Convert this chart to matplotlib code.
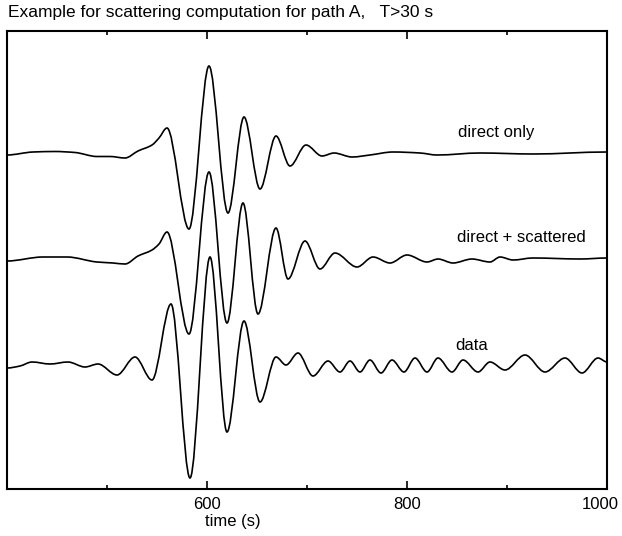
import numpy as np
import matplotlib
matplotlib.use("Agg")
import matplotlib.pyplot as plt
from matplotlib.path import Path
from matplotlib.patches import PathPatch
from matplotlib import transforms

plt.rcParams['font.family'] = ['Liberation Sans', 'DejaVu Sans']

# picked points (time in s, amplitude relative to each trace's baseline)
direct_t = [400, 426, 448, 468, 490, 503, 518, 531, 545, 552, 560, 582, 602, 621, 637,
            653, 669, 683, 699, 715, 727, 745, 763, 786, 813, 830, 873, 926, 1000]
direct_a = [0, 3, 3.5, 2.5, -1.5, -1.5, -3, 4, 10, 17, 27, -74, 89, -58, 38,
            -34, 19, -11, 10, -1, 2, -2, 0, 3, 2, 0, 2, 1, 3]

scat_t = [400, 436, 460, 490, 506, 518, 531, 545, 552, 560, 582, 602, 620, 636, 651,
          669, 681, 698, 713, 728, 750, 766, 783, 800, 820, 831, 846, 865, 883, 893,
          906, 926, 973, 1000]
scat_a = [0, 4, 4, -1, -2, -3, 5, 11, 17, 29, -73, 89, -62, 58, -53,
          33, -18, 20, -8, 8, -6, 4, -2, 6, -1, 2, -2, 2, -1, 4,
          1, 3, 2, 3]

data_t = [400, 413, 425, 443, 461, 478, 491, 510, 528, 545, 564, 583, 603, 620, 637,
          653, 669, 679, 691, 706, 721, 733, 743, 753, 763, 774, 785, 797, 808, 820,
          831, 845, 856, 871, 883, 898, 918, 938, 958, 975, 991, 1000]
data_a = [0, 2, 6, 4, 6, 1, 4, -7, 11, -12, 64, -110, 111, -64, 47,
          -34, 11, 3, 15, -8, 7, -4, 7, -4, 8, -5, 8, -4, 10, -4,
          10, -4, 8, -4, 6, -2, 13, -4, 10, -5, 10, 6]

offsets = [0, -106, -213]
names = ['direct only', 'direct + scattered', 'data']
label_t = [851, 850, 848]
label_a = [23, 24, 23]


def smooth_path(t, a, off):
    # monotone cubic (Fritsch-Carlson) tangents, drawn as bezier segments
    t = np.asarray(t, float)
    a = np.asarray(a, float) + off
    h = np.diff(t)
    d = np.diff(a) / h
    m = np.zeros(len(t))
    for i in range(1, len(t) - 1):
        if d[i - 1] * d[i] > 0:
            w1 = 2 * h[i] + h[i - 1]
            w2 = h[i] + 2 * h[i - 1]
            m[i] = (w1 + w2) / (w1 / d[i - 1] + w2 / d[i])
    verts = [(t[0], a[0])]
    codes = [Path.MOVETO]
    for i in range(len(t) - 1):
        verts += [(t[i] + h[i] / 3, a[i] + m[i] * h[i] / 3),
                  (t[i + 1] - h[i] / 3, a[i + 1] - m[i + 1] * h[i] / 3),
                  (t[i + 1], a[i + 1])]
        codes += [Path.CURVE4] * 3
    return Path(verts, codes)


fig = plt.figure(figsize=(6.22, 5.36), dpi=100)
ax = fig.add_axes([7 / 622, 1 - 489 / 536, 600 / 622, 458 / 536])

for tt, aa, off in zip([direct_t, scat_t, data_t], [direct_a, scat_a, data_a], offsets):
    ax.add_patch(PathPatch(smooth_path(tt, aa, off), fill=False, edgecolor='black', lw=1.2))

for name, x, a, off in zip(names, label_t, label_a, offsets):
    ax.text(x, a + off, name, fontsize=12, ha='left', va='center')

ax.set_xlim(400, 1000)
ax.set_ylim(-334, 124)
ax.set_yticks([])
ax.set_xticks([600, 800, 1000])
ax.set_xticklabels(['600', '800', '1000'], fontsize=12)
ax.set_xticks([500, 700, 900], minor=True)
ax.tick_params(axis='x', which='major', direction='in', top=True, length=5.5, width=1.2, pad=6)
ax.tick_params(axis='x', which='minor', direction='in', top=True, length=3.2, width=1.2)
for s in ax.spines.values():
    s.set_linewidth(1.5)

lab = ax.get_xticklabels()[-1]
lab.set_transform(transforms.offset_copy(lab.get_transform(), fig=fig, x=-7, units='dots'))

ax.set_xlabel('time (s)', fontsize=12)
ax.xaxis.set_label_coords(0.377, -0.055)

fig.text(8 / 622, 1 - 13 / 536, 'Example for scattering computation for path A,   T>30 s',
         fontsize=12.5, ha='left', va='center')

fig.savefig('out.png', dpi=100)
